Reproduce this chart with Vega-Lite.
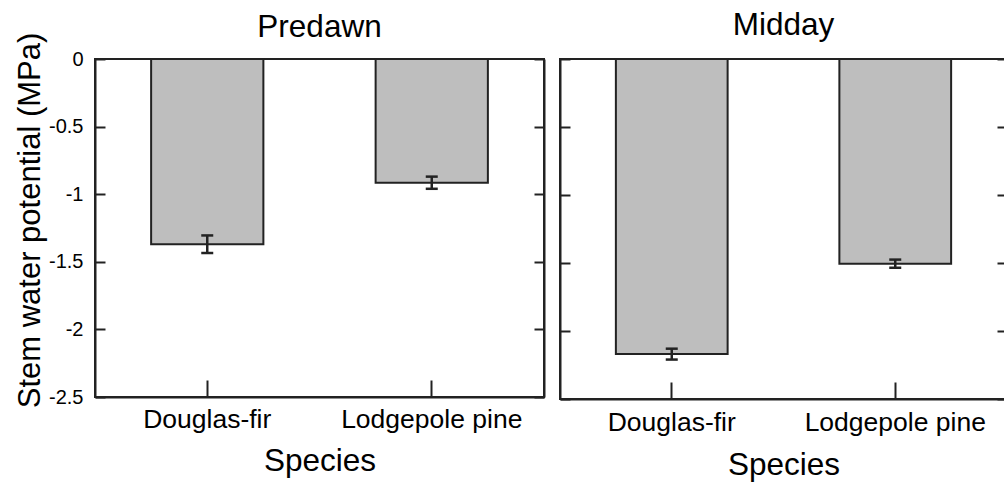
{
  "$schema": "https://vega.github.io/schema/vega-lite/v6.json",
  "padding": {"left": 13, "top": 8, "right": 0, "bottom": 0},
  "datasets": {
    "wp": [
      {"period": "Predawn", "species": "Douglas-fir", "mean": -1.37, "lo": -1.435, "hi": -1.305},
      {"period": "Predawn", "species": "Lodgepole pine", "mean": -0.915, "lo": -0.96, "hi": -0.87},
      {"period": "Midday", "species": "Douglas-fir", "mean": -2.17, "lo": -2.21, "hi": -2.13},
      {"period": "Midday", "species": "Lodgepole pine", "mean": -1.505, "lo": -1.535, "hi": -1.475}
    ]
  },
  "hconcat": [
    {
      "title": {"text": "Predawn", "offset": -11},
      "width": 449,
      "height": 338,
      "data": {"name": "wp"},
      "transform": [{"filter": "datum.period === 'Predawn'"}],
      "layer": [
        {
          "mark": {"type": "bar", "fill": "#bebebe", "stroke": "#222", "strokeWidth": 2},
          "encoding": {
            "x": {"field": "species", "type": "nominal", "sort": ["Douglas-fir", "Lodgepole pine"],
                  "scale": {"paddingInner": 0.5, "paddingOuter": 0.25},
                  "axis": {"title": "Species", "labelAngle": 0, "tickSize": -17}},
            "y": {"field": "mean", "type": "quantitative",
                  "scale": {"domain": [-2.5, 0], "nice": false},
                  "axis": {"title": "Stem water potential (MPa)", "orient": "left", "values": [-2.5, -2, -1.5, -1, -0.5, 0],
                           "tickSize": -10, "labelPadding": 22, "titleY": 161,
                           "labelExpr": "replace(format(datum.value, '~g'), '\u2212', '-')"}}
          }
        },
        {
          "mark": {"type": "rule", "stroke": "#222", "strokeWidth": 2.5},
          "encoding": {
            "x": {"field": "species", "type": "nominal", "sort": ["Douglas-fir", "Lodgepole pine"]},
            "y": {"field": "lo", "type": "quantitative",
                  "axis": {"title": null, "orient": "right", "labels": false, "tickSize": -10, "values": [-2.5, -2, -1.5, -1, -0.5, 0]}},
            "y2": {"field": "hi"}
          }
        },
        {
          "mark": {"type": "tick", "color": "#222", "size": 12, "thickness": 2.5, "opacity": 1},
          "encoding": {
            "x": {"field": "species", "type": "nominal", "sort": ["Douglas-fir", "Lodgepole pine"]},
            "y": {"field": "lo", "type": "quantitative", "axis": null}
          }
        },
        {
          "mark": {"type": "tick", "color": "#222", "size": 12, "thickness": 2.5, "opacity": 1},
          "encoding": {
            "x": {"field": "species", "type": "nominal", "sort": ["Douglas-fir", "Lodgepole pine"]},
            "y": {"field": "hi", "type": "quantitative", "axis": null}
          }
        }
      ],
      "resolve": {"axis": {"y": "independent"}}
    },
    {
      "title": {"text": "Midday"},
      "width": 447,
      "height": 340,
      "data": {"name": "wp"},
      "transform": [{"filter": "datum.period === 'Midday'"}],
      "layer": [
        {
          "mark": {"type": "bar", "fill": "#bebebe", "stroke": "#222", "strokeWidth": 2},
          "encoding": {
            "x": {"field": "species", "type": "nominal", "sort": ["Douglas-fir", "Lodgepole pine"],
                  "scale": {"paddingInner": 0.5, "paddingOuter": 0.25},
                  "axis": {"title": "Species", "labelAngle": 0, "tickSize": -17, "labelPadding": 27, "titlePadding": 14}},
            "y": {"field": "mean", "type": "quantitative",
                  "scale": {"domain": [-2.5, 0], "nice": false},
                  "axis": {"title": null, "orient": "left", "labels": false, "tickSize": -10, "values": [-2.5, -2, -1.5, -1, -0.5, 0]}}
          }
        },
        {
          "mark": {"type": "rule", "stroke": "#222", "strokeWidth": 2.5},
          "encoding": {
            "x": {"field": "species", "type": "nominal", "sort": ["Douglas-fir", "Lodgepole pine"]},
            "y": {"field": "lo", "type": "quantitative",
                  "axis": {"title": null, "orient": "right", "labels": false, "tickSize": -10, "values": [-2.5, -2, -1.5, -1, -0.5, 0]}},
            "y2": {"field": "hi"}
          }
        },
        {
          "mark": {"type": "tick", "color": "#222", "size": 12, "thickness": 2.5, "opacity": 1},
          "encoding": {
            "x": {"field": "species", "type": "nominal", "sort": ["Douglas-fir", "Lodgepole pine"]},
            "y": {"field": "lo", "type": "quantitative", "axis": null}
          }
        },
        {
          "mark": {"type": "tick", "color": "#222", "size": 12, "thickness": 2.5, "opacity": 1},
          "encoding": {
            "x": {"field": "species", "type": "nominal", "sort": ["Douglas-fir", "Lodgepole pine"]},
            "y": {"field": "hi", "type": "quantitative", "axis": null}
          }
        }
      ],
      "resolve": {"axis": {"y": "independent"}}
    }
  ],
  "spacing": 12,
  "config": {
    "font": "Liberation Sans",
    "view": {"stroke": "#222", "strokeWidth": 2},
    "title": {"fontSize": 31.5, "fontWeight": "normal", "color": "#000", "offset": 17, "anchor": "middle", "frame": "group"},
    "axis": {
      "grid": false,
      "domainColor": "#222",
      "domainWidth": 2,
      "tickColor": "#222",
      "tickWidth": 2,
      "labelColor": "#000",
      "titleColor": "#000",
      "titleFontWeight": "normal",
      "titleFontSize": 31,
      "labelLimit": 0
    },
    "axisY": {"labelFontSize": 20, "titlePadding": 2},
    "axisX": {"labelFontSize": 26.5, "labelPadding": 26, "titlePadding": 13, "titleFontSize": 31.5}
  }
}
